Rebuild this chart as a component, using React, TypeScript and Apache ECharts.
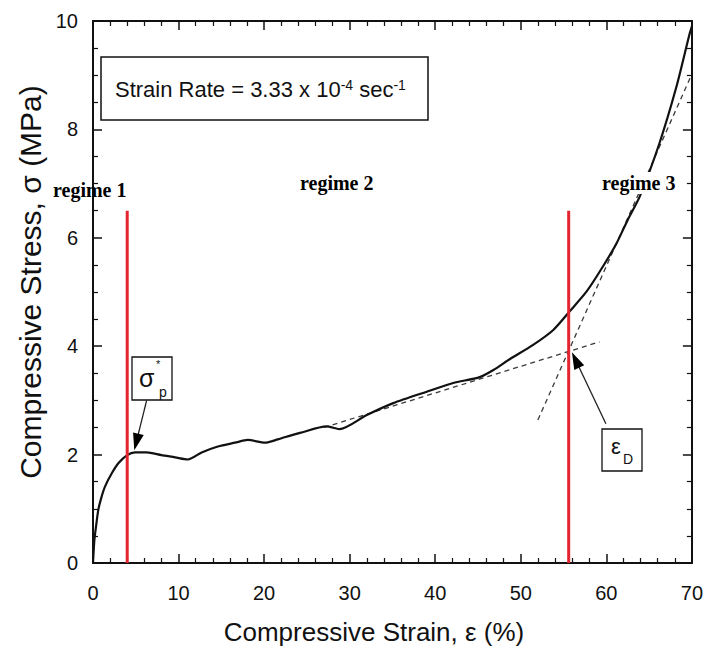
import React, { useEffect, useRef } from 'react';
import * as echarts from 'echarts';

// Compressive strain (%) and stress (MPa)
const strain = [0, 0.16, 0.35, 0.62, 1.0, 1.4, 2.18, 2.96, 4.0, 4.9, 6.27, 8.0, 9.6, 11.1, 12.7, 14.6, 16.6, 18.1, 20.1, 21.6, 22.4, 24.2, 27.3, 28.8, 32.0, 35.1, 39.0, 42.1, 45.2, 46.8, 48.7, 51.4, 53.8, 55.7, 57.7, 59.6, 61.2, 62.5, 63.9, 66.2, 68.2, 69.7, 70];
const stress = [0, 0.42, 0.67, 0.98, 1.22, 1.41, 1.65, 1.84, 1.99, 2.04, 2.04, 1.99, 1.95, 1.91, 2.04, 2.15, 2.22, 2.27, 2.22, 2.28, 2.32, 2.40, 2.52, 2.47, 2.73, 2.95, 3.16, 3.32, 3.43, 3.56, 3.76, 4.02, 4.30, 4.64, 5.01, 5.47, 5.90, 6.33, 6.76, 7.74, 8.79, 9.74, 9.9];

// Tangent construction lines (dashed)
const tangentPlateau = [[27, 2.5], [59.2, 4.08]];
const tangentDensification = [[52, 2.64], [69.8, 8.95]];

// Regime boundaries (red vertical lines)
const regimeBoundaries = [4, 55.6];
const boundaryTop = 6.5;

// Annotation arrows: [from, to] in data coordinates
const arrowSigma = [[6.27, 3.0], [4.83, 2.08]];
const arrowEps = [[59.95, 2.57], [55.98, 3.89]];

const regimeLabels = ['regime 1', 'regime 2', 'regime 3'];

const SANS = '"Liberation Sans", Arial, sans-serif';
const SERIF = '"Liberation Serif", "Times New Roman", serif';
const INK = '#111';

function axisBase(minorSplit: number) {
  return {
    type: 'value',
    axisLine: { show: true, onZero: false, lineStyle: { color: INK, width: 2 } },
    axisTick: { show: true, inside: true, length: 9, lineStyle: { color: INK, width: 1.5 } },
    minorTick: { show: true, splitNumber: minorSplit, length: 5, lineStyle: { color: INK, width: 1.2 } },
    splitLine: { show: false },
    minorSplitLine: { show: false },
  };
}

function arrowGraphic(chart: any, arrow: number[][]) {
  const p0 = chart.convertToPixel({ gridIndex: 0 }, arrow[0]);
  const p1 = chart.convertToPixel({ gridIndex: 0 }, arrow[1]);
  const dx = p1[0] - p0[0];
  const dy = p1[1] - p0[1];
  const len = Math.sqrt(dx * dx + dy * dy);
  const ux = dx / len;
  const uy = dy / len;
  const L = 17;
  const W = 5.5;
  const bx = p1[0] - ux * L;
  const by = p1[1] - uy * L;
  return [
    {
      type: 'line',
      z: 100,
      shape: { x1: p0[0], y1: p0[1], x2: bx + ux * 2, y2: by + uy * 2 },
      style: { stroke: '#222', lineWidth: 1.3 },
    },
    {
      type: 'polygon',
      z: 100,
      shape: {
        points: [
          [p1[0], p1[1]],
          [bx - uy * W, by + ux * W],
          [bx + uy * W, by - ux * W],
        ],
      },
      style: { fill: '#000' },
    },
  ];
}

export default function App() {
  const ref = useRef<HTMLDivElement>(null);

  useEffect(() => {
    if (!ref.current) return;
    const chart = echarts.init(ref.current, undefined, { renderer: 'svg' });

    const curve = strain.map((x, i) => [x, stress[i]]);
    const dashStyle = { color: '#3a3a3a', width: 1.3, type: [5, 4] };

    const option: any = {
      animation: false,
      backgroundColor: '#fff',
      grid: { left: 93, right: 14, top: 21, bottom: 85, containLabel: false },
      xAxis: [
        {
          ...axisBase(5),
          position: 'bottom',
          min: 0,
          max: 70,
          interval: 10,
          axisLabel: { show: true, fontSize: 20, margin: 20, color: INK, fontFamily: SANS },
        },
        {
          ...axisBase(5),
          position: 'top',
          min: 0,
          max: 70,
          interval: 10,
          axisLabel: { show: false },
        },
      ],
      yAxis: [
        {
          ...axisBase(4),
          position: 'left',
          min: 0,
          max: 10,
          interval: 2,
          axisLabel: { show: true, fontSize: 20, margin: 15, color: INK, fontFamily: SANS },
        },
        {
          ...axisBase(4),
          position: 'right',
          min: 0,
          max: 10,
          interval: 2,
          axisLabel: { show: false },
        },
      ],
      series: [
        {
          type: 'line',
          data: tangentPlateau,
          symbol: 'none',
          lineStyle: dashStyle,
          z: 2,
        },
        {
          type: 'line',
          data: tangentDensification,
          symbol: 'none',
          lineStyle: dashStyle,
          z: 2,
        },
        {
          type: 'line',
          data: curve,
          symbol: 'none',
          smooth: 0.25,
          lineStyle: { color: INK, width: 2.2 },
          z: 3,
        },
        ...regimeBoundaries.map((x) => ({
          type: 'line',
          data: [[x, 0], [x, boundaryTop]],
          symbol: 'none',
          lineStyle: { color: '#e3262e', width: 3 },
          z: 4,
        })),
      ],
    };
    chart.setOption(option);

    const graphics: any[] = [
      // Strain rate box
      {
        type: 'rect',
        z: 100,
        shape: { x: 101, y: 57, width: 327, height: 63 },
        style: { fill: '#fff', stroke: INK, lineWidth: 1.5 },
      },
      {
        type: 'text',
        z: 101,
        x: 115,
        y: 89,
        style: {
          text: 'Strain Rate = 3.33 x 10{sup|-4} sec{sup|-1}',
          fontSize: 22,
          fontFamily: SANS,
          fill: INK,
          align: 'left',
          verticalAlign: 'middle',
          rich: {
            sup: { fontSize: 14, fontFamily: SANS, fill: INK, verticalAlign: 'top' },
          },
        },
      },
      // Regime labels
      {
        type: 'text',
        z: 101,
        x: 53,
        y: 190,
        style: { text: regimeLabels[0], fontSize: 20, fontWeight: 'bold', fontFamily: SERIF, fill: '#000', verticalAlign: 'middle' },
      },
      {
        type: 'text',
        z: 101,
        x: 300,
        y: 183,
        style: { text: regimeLabels[1], fontSize: 20, fontWeight: 'bold', fontFamily: SERIF, fill: '#000', verticalAlign: 'middle' },
      },
      {
        type: 'rect',
        z: 100,
        shape: { x: 599, y: 172, width: 82, height: 22 },
        style: { fill: '#fff', stroke: null },
      },
      {
        type: 'text',
        z: 101,
        x: 602,
        y: 183,
        style: {
          text: regimeLabels[2],
          fontSize: 20,
          fontWeight: 'bold',
          fontFamily: SERIF,
          fill: '#000',
          verticalAlign: 'middle',
        },
      },
      // sigma*_p box
      {
        type: 'rect',
        z: 100,
        shape: { x: 132, y: 357, width: 40, height: 43 },
        style: { fill: '#fff', stroke: INK, lineWidth: 1.3 },
      },
      {
        type: 'text',
        z: 101,
        x: 139,
        y: 378,
        style: { text: 'σ', fontSize: 25, fontFamily: SANS, fill: INK, verticalAlign: 'middle' },
      },
      {
        type: 'text',
        z: 101,
        x: 156,
        y: 364,
        style: { text: '*', fontSize: 11, fontFamily: SANS, fill: INK, verticalAlign: 'middle' },
      },
      {
        type: 'text',
        z: 101,
        x: 159,
        y: 392,
        style: { text: 'p', fontSize: 14, fontFamily: SANS, fill: INK, verticalAlign: 'middle' },
      },
      // epsilon_D box
      {
        type: 'rect',
        z: 100,
        shape: { x: 602, y: 429, width: 40, height: 42 },
        style: { fill: '#fff', stroke: INK, lineWidth: 1.3 },
      },
      {
        type: 'text',
        z: 101,
        x: 611,
        y: 446,
        style: { text: 'ε', fontSize: 22, fontFamily: SANS, fill: INK, verticalAlign: 'middle' },
      },
      {
        type: 'text',
        z: 101,
        x: 623,
        y: 459,
        style: { text: 'D', fontSize: 14, fontFamily: SANS, fill: INK, verticalAlign: 'middle' },
      },
      // Axis titles
      {
        type: 'text',
        z: 101,
        x: 374,
        y: 632,
        style: { text: 'Compressive Strain, ε (%)', fontSize: 26, fontFamily: SANS, fill: INK, align: 'center', verticalAlign: 'middle' },
      },
      {
        type: 'text',
        z: 101,
        x: 30,
        y: 282,
        rotation: Math.PI / 2,
        style: { text: 'Compressive Stress, σ (MPa)', fontSize: 30, fontFamily: SANS, fill: INK, align: 'center', verticalAlign: 'middle' },
      },
      ...arrowGraphic(chart, arrowSigma),
      ...arrowGraphic(chart, arrowEps),
    ];
    chart.setOption({ graphic: graphics });

    return () => chart.dispose();
  }, []);

  return (
    <div
      ref={ref}
      style={{ position: 'fixed', left: 0, top: 0, width: 706, height: 648, background: '#fff' }}
    />
  );
}
